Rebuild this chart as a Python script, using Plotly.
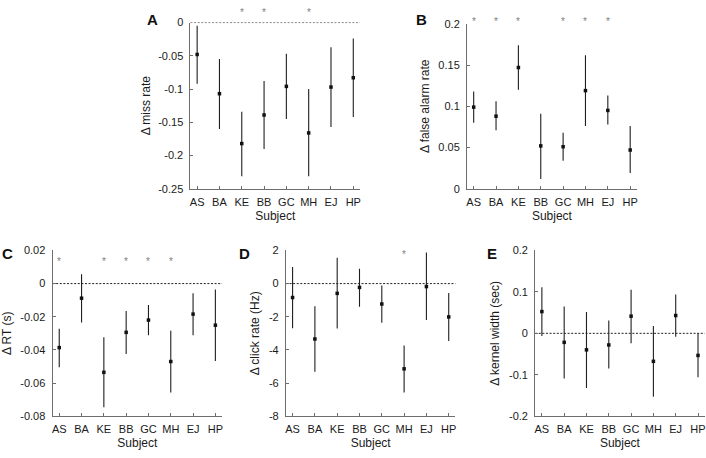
import plotly.graph_objects as go

subjects = ["AS", "BA", "KE", "BB", "GC", "MH", "EJ", "HP"]
xpos = [1, 2, 3, 4, 5, 6, 7, 8]

# Panel A: delta miss rate
miss_mean = [-0.048, -0.107, -0.182, -0.139, -0.096, -0.166, -0.097, -0.083]
miss_lo = [-0.092, -0.160, -0.231, -0.190, -0.145, -0.231, -0.157, -0.142]
miss_hi = [-0.005, -0.055, -0.134, -0.088, -0.047, -0.100, -0.037, -0.024]
miss_sig = [0, 0, 1, 1, 0, 1, 0, 0]

# Panel B: delta false alarm rate
fa_mean = [0.099, 0.088, 0.147, 0.052, 0.051, 0.119, 0.095, 0.047]
fa_lo = [0.080, 0.071, 0.120, 0.012, 0.034, 0.076, 0.078, 0.019]
fa_hi = [0.118, 0.106, 0.174, 0.091, 0.068, 0.162, 0.113, 0.076]
fa_sig = [1, 1, 1, 0, 1, 1, 1, 0]

# Panel C: delta RT (s)
rt_mean = [-0.0386, -0.0088, -0.0535, -0.0294, -0.0220, -0.0470, -0.0184, -0.0251]
rt_lo = [-0.0504, -0.0235, -0.0745, -0.0424, -0.0312, -0.0657, -0.0312, -0.0467]
rt_hi = [-0.0273, 0.0057, -0.0324, -0.0165, -0.0129, -0.0284, -0.0059, -0.0035]
rt_sig = [1, 0, 1, 1, 1, 1, 0, 0]

# Panel D: delta click rate (Hz)
click_mean = [-0.84, -3.34, -0.59, -0.23, -1.23, -5.14, -0.18, -2.01]
click_lo = [-2.70, -5.31, -2.71, -1.39, -2.36, -6.56, -2.19, -3.46]
click_hi = [1.00, -1.37, 1.56, 0.90, -0.12, -3.73, 1.88, -0.57]
click_sig = [0, 0, 0, 0, 0, 1, 0, 0]

# Panel E: delta kernel width (sec)
kw_mean = [0.0525, -0.0217, -0.0398, -0.0280, 0.0414, -0.0675, 0.0430, -0.0533]
kw_lo = [-0.0067, -0.1090, -0.1320, -0.0848, -0.0240, -0.1530, -0.0083, -0.1060]
kw_hi = [0.1110, 0.0650, 0.0517, 0.0310, 0.1050, 0.0178, 0.0935, 0.0004]
kw_sig = [0, 0, 0, 0, 0, 0, 0, 0]

# tick labels
ticks_A = [0, -0.05, -0.1, -0.15, -0.2, -0.25]
labels_A = ["0", "-0.05", "-0.1", "-0.15", "-0.2", "-0.25"]
ticks_B = [0, 0.05, 0.1, 0.15, 0.2]
labels_B = ["0", "0.05", "0.1", "0.15", "0.2"]
ticks_C = [0.02, 0, -0.02, -0.04, -0.06, -0.08]
labels_C = ["0.02", "0", "-0.02", "-0.04", "-0.06", "-0.08"]
ticks_D = [2, 0, -2, -4, -6, -8]
labels_D = ["2", "0", "-2", "-4", "-6", "-8"]
ticks_E = [0.2, 0.1, 0, -0.1, -0.2]
labels_E = ["0.2", "0.1", "0", "-0.1", "-0.2"]

W, H = 706, 458
FONT = "Liberation Sans, Arial, Helvetica, sans-serif"
AXC = "#6e6e6e"
TXT = "#1a1a1a"


def px_dom(a, b, total):
    return [a / total, b / total]


def ydom(top, bottom):
    return [1 - bottom / H, 1 - top / H]


# star_d: vertical position of significance stars as a fraction of the axis domain
panels = [
    dict(key="A", mean=miss_mean, lo=miss_lo, hi=miss_hi, sig=miss_sig, star_d=1.058,
         yr=[-0.25, 0], tv=ticks_A, tt=labels_A, ytitle="Δ miss rate", ystand=4,
         xd=px_dom(190, 360, W), yd=ydom(17, 187.7), zero=True, lx=151.5, ly=13.5),
    dict(key="B", mean=fa_mean, lo=fa_lo, hi=fa_hi, sig=fa_sig, star_d=1.013,
         yr=[0, 0.2], tv=ticks_B, tt=labels_B, ytitle="Δ false alarm rate", ystand=6,
         xd=px_dom(467.3, 637.7, W), yd=ydom(18.3, 187.7), zero=False, lx=422, ly=13.5),
    dict(key="C", mean=rt_mean, lo=rt_lo, hi=rt_hi, sig=rt_sig, star_d=0.935,
         yr=[-0.08, 0.02], tv=ticks_C, tt=labels_C, ytitle="Δ RT (s)", ystand=6,
         xd=px_dom(51.7, 221.7, W), yd=ydom(251, 421.3), zero=True, lx=7, ly=254),
    dict(key="D", mean=click_mean, lo=click_lo, hi=click_hi, sig=click_sig, star_d=0.973,
         yr=[-8, 2], tv=ticks_D, tt=labels_D, ytitle="Δ click rate (Hz)", ystand=6,
         xd=px_dom(285.7, 455.7, W), yd=ydom(251, 421.3), zero=True, lx=244, ly=254),
    dict(key="E", mean=kw_mean, lo=kw_lo, hi=kw_hi, sig=kw_sig, star_d=0.97,
         yr=[-0.2, 0.2], tv=ticks_E, tt=labels_E, ytitle="Δ kernel width (sec)", ystand=6,
         xd=px_dom(535.7, 705.7, W), yd=ydom(251, 421.3), zero=True, lx=492.5, ly=254),
]

fig = go.Figure()
layout = dict(
    width=W, height=H, margin=dict(l=0, r=0, t=0, b=0),
    paper_bgcolor="white", plot_bgcolor="white",
    showlegend=False, font=dict(family=FONT, size=11, color=TXT),
)
annotations = []
shapes = []

for i, p in enumerate(panels):
    n = i + 1
    xa = "x" if n == 1 else f"x{n}"
    ya = "y" if n == 1 else f"y{n}"
    xk = "xaxis" if n == 1 else f"xaxis{n}"
    yk = "yaxis" if n == 1 else f"yaxis{n}"

    plus = [h - m for h, m in zip(p["hi"], p["mean"])]
    minus = [m - l for m, l in zip(p["mean"], p["lo"])]
    fig.add_trace(go.Scatter(
        x=xpos, y=p["mean"], mode="markers", xaxis=xa, yaxis=ya,
        marker=dict(size=3.5, color="#111111", symbol="square"),
        error_y=dict(type="data", symmetric=False, array=plus, arrayminus=minus,
                     width=0, thickness=1.1, color="#1f1f1f"),
        cliponaxis=False, hoverinfo="skip",
    ))
    for x, s in zip(xpos, p["sig"]):
        if s:
            annotations.append(dict(
                text="*", xref=xa, yref=f"{ya} domain", x=x, y=p["star_d"],
                xanchor="center", yanchor="middle", showarrow=False,
                font=dict(size=10, family=FONT, color="#808080"),
            ))
    if p["zero"]:
        shapes.append(dict(type="line", xref=f"{xa} domain", yref=ya, x0=0, x1=1, y0=0, y1=0,
                           line=dict(color="#222222", width=1, dash="2px,1.6px"), layer="below"))

    layout[xk] = dict(
        domain=p["xd"], anchor=ya, range=[0.7, 8.3],
        tickmode="array", tickvals=xpos, ticktext=subjects,
        ticks="inside", ticklen=3, tickcolor=AXC, tickwidth=1,
        showline=True, linecolor=AXC, linewidth=1, showgrid=False, zeroline=False,
        tickfont=dict(size=11, family=FONT, color=TXT),
        ticklabelstandoff=3,
        title=dict(text="Subject", font=dict(size=12, family=FONT, color=TXT), standoff=4),
        fixedrange=True,
    )
    layout[yk] = dict(
        domain=p["yd"], anchor=xa, range=p["yr"],
        tickmode="array", tickvals=p["tv"], ticktext=p["tt"],
        ticks="inside", ticklen=3, tickcolor=AXC, tickwidth=1,
        showline=True, linecolor=AXC, linewidth=1, showgrid=False, zeroline=False,
        tickfont=dict(size=11, family=FONT, color=TXT),
        ticklabelstandoff=4,
        title=dict(text=p["ytitle"], font=dict(size=12, family=FONT, color=TXT), standoff=p["ystand"]),
        fixedrange=True,
    )
    annotations.append(dict(
        text=f"<b>{p['key']}</b>", xref="paper", yref="paper",
        x=p["lx"] / W, y=1 - p["ly"] / H, xanchor="center", yanchor="middle",
        showarrow=False, font=dict(size=15, family=FONT, color="#111111"),
    ))

layout["annotations"] = annotations
layout["shapes"] = shapes
fig.update_layout(**layout)
fig.write_html(
    "out.html",
    config={"displayModeBar": False},
    post_script="document.body.style.margin='0';document.body.style.padding='0';",
)
